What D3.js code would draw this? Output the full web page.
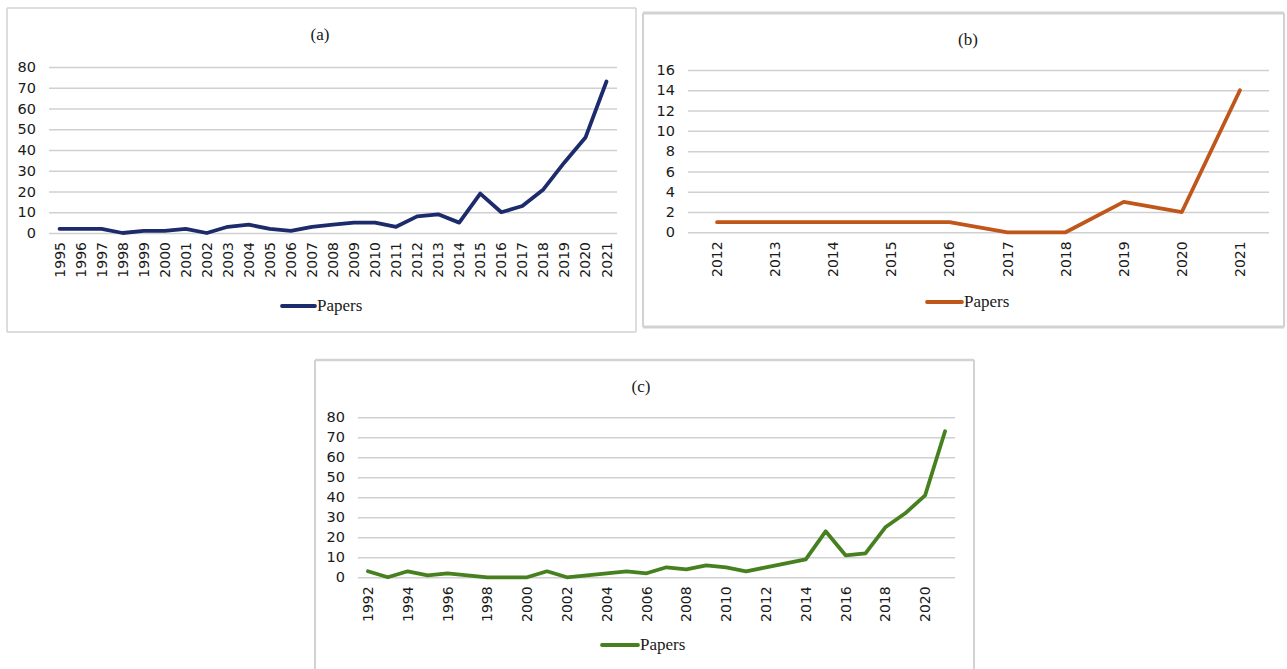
<!DOCTYPE html>
<html>
<head>
<meta charset="utf-8">
<script src="https://cdn.jsdelivr.net/npm/d3@7"></script>
<style>
  html, body { margin: 0; padding: 0; background: #fff; }
  svg { display: block; }
</style>
</head>
<body>
<svg id="chart" width="1287" height="669"></svg>
<script>
// ---------- data ----------
const yearsA = [1995,1996,1997,1998,1999,2000,2001,2002,2003,2004,2005,2006,2007,2008,2009,2010,2011,2012,2013,2014,2015,2016,2017,2018,2019,2020,2021];
const papersA = [2,2,2,0,1,1,2,0,3,4,2,1,3,4,5,5,3,8,9,5,19,10,13,21,34,46,73];
const ticksA = [0,10,20,30,40,50,60,70,80];

const yearsB = [2012,2013,2014,2015,2016,2017,2018,2019,2020,2021];
const papersB = [1,1,1,1,1,0,0,3,2,14];
const ticksB = [0,2,4,6,8,10,12,14,16];

const yearsC = [1992,1993,1994,1995,1996,1997,1998,1999,2000,2001,2002,2003,2004,2005,2006,2007,2008,2009,2010,2011,2012,2013,2014,2015,2016,2017,2018,2019,2020,2021];
const papersC = [3,0,3,1,2,1,0,0,0,3,0,1,2,3,2,5,4,6,5,3,5,7,9,23,11,12,25,32,41,73];
const ticksC = [0,10,20,30,40,50,60,70,80];
const xLabelsC = yearsC.filter(y => y % 2 === 0);

const titles = ["(a)", "(b)", "(c)"];
const seriesName = "Papers";

// ---------- layout ----------
const panels = [
  { title: titles[0], years: yearsA, values: papersA, ticks: ticksA, xLabels: yearsA,
    color: "#1c2b6b",
    box: {x0: 7, y0: 8, x1: 636, y1: 332, side: 1.5, tb: 1.5},
    plot: {x0: 49, x1: 617, y0: 233, y1: 67},
    titlePos: [320, 40], legend: {x0: 282, x1: 315, y: 306} },
  { title: titles[1], years: yearsB, values: papersB, ticks: ticksB, xLabels: yearsB,
    color: "#c0561a",
    box: {x0: 643, y0: 13, x1: 1284, y1: 327, side: 2, tb: 3},
    plot: {x0: 688, x1: 1269, y0: 232.3, y1: 70},
    titlePos: [968, 45], legend: {x0: 927, x1: 962, y: 302} },
  { title: titles[2], years: yearsC, values: papersC, ticks: ticksC, xLabels: xLabelsC,
    color: "#46801f",
    box: {x0: 315, y0: 360, x1: 974, y1: 672, side: 2, tb: 2.5},
    plot: {x0: 358, x1: 955, y0: 577.3, y1: 417.3},
    titlePos: [641, 392], legend: {x0: 602, x1: 638, y: 645} }
];

const svg = d3.select("#chart");
const borderColor = "#d2d2d2";
const gridColor = "#d0d0d0";
const numFont = "'DejaVu Sans', sans-serif";
const serifFont = "'Liberation Serif', 'Times New Roman', serif";
const textColor = "#1a1a1a";

panels.forEach(p => {
  const g = svg.append("g");
  const b = p.box;
  // border
  g.append("line").attr("x1", b.x0).attr("x2", b.x1).attr("y1", b.y0).attr("y2", b.y0)
    .attr("stroke", borderColor).attr("stroke-width", b.tb);
  g.append("line").attr("x1", b.x0).attr("x2", b.x1).attr("y1", b.y1).attr("y2", b.y1)
    .attr("stroke", borderColor).attr("stroke-width", b.tb);
  g.append("line").attr("x1", b.x0).attr("x2", b.x0).attr("y1", b.y0).attr("y2", b.y1)
    .attr("stroke", borderColor).attr("stroke-width", b.side);
  g.append("line").attr("x1", b.x1).attr("x2", b.x1).attr("y1", b.y0).attr("y2", b.y1)
    .attr("stroke", borderColor).attr("stroke-width", b.side);

  const x = d3.scaleBand().domain(p.years).range([p.plot.x0, p.plot.x1]).padding(0);
  const y = d3.scaleLinear().domain([0, d3.max(p.ticks)]).range([p.plot.y0, p.plot.y1]);
  const w = p.plot.x1 - p.plot.x0;

  // y axis with gridlines
  const ya = g.append("g").attr("transform", `translate(${p.plot.x0},0)`)
    .call(d3.axisLeft(y).tickValues(p.ticks).tickSizeInner(-w).tickSizeOuter(0).tickPadding(13));
  ya.select(".domain").remove();
  ya.selectAll(".tick line").attr("stroke", gridColor).attr("stroke-width", 1.5);
  ya.selectAll(".tick text").attr("font-family", numFont).attr("font-size", 14.5).attr("fill", textColor);

  // x axis
  const xa = g.append("g").attr("transform", `translate(0,${p.plot.y0})`)
    .call(d3.axisBottom(x).tickValues(p.xLabels).tickSize(0).tickPadding(0));
  xa.select(".domain").remove();
  xa.selectAll(".tick text")
    .attr("font-family", numFont).attr("font-size", 14).attr("fill", textColor)
    .attr("transform", "rotate(-90)")
    .attr("text-anchor", "end")
    .attr("x", -9).attr("y", 0).attr("dy", "0.36em");

  // line
  const line = d3.line()
    .x((d, i) => x(p.years[i]) + x.bandwidth() / 2)
    .y(d => y(d));
  g.append("path").datum(p.values)
    .attr("d", line)
    .attr("fill", "none")
    .attr("stroke", p.color)
    .attr("stroke-width", 3.8)
    .attr("stroke-linejoin", "round")
    .attr("stroke-linecap", "round");

  // title
  g.append("text").attr("x", p.titlePos[0]).attr("y", p.titlePos[1])
    .attr("text-anchor", "middle")
    .attr("font-family", serifFont).attr("font-size", 17).attr("fill", textColor)
    .text(p.title);

  // legend
  g.append("line").attr("x1", p.legend.x0).attr("x2", p.legend.x1)
    .attr("y1", p.legend.y).attr("y2", p.legend.y)
    .attr("stroke", p.color).attr("stroke-width", 3.8).attr("stroke-linecap", "round");
  g.append("text").attr("x", p.legend.x1 + 2).attr("y", p.legend.y + 5)
    .attr("font-family", serifFont).attr("font-size", 17).attr("fill", textColor)
    .text(seriesName);
});
</script>
</body>
</html>
